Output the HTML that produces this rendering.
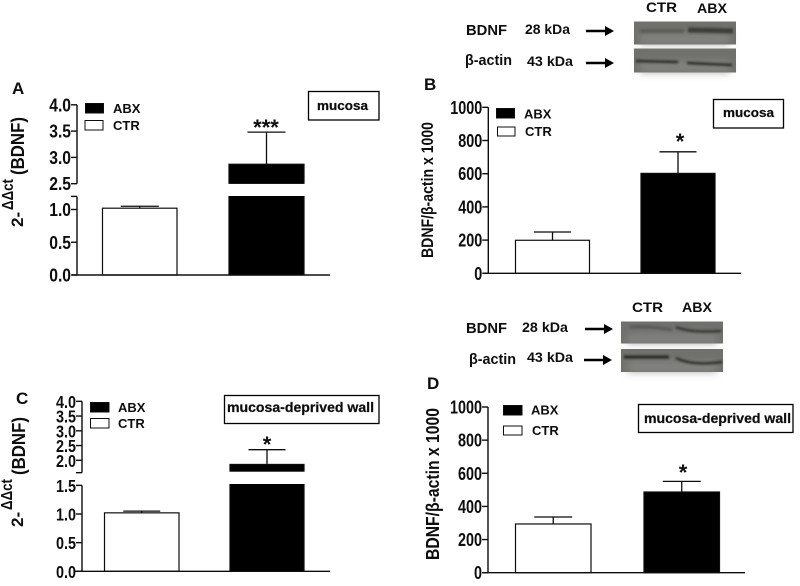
<!DOCTYPE html>
<html lang="en">
<head>
<meta charset="utf-8">
<title>BDNF expression in mucosa and mucosa-deprived wall</title>
<style>
html,body{margin:0;padding:0;background:#fff;}
#figure{display:block;width:800px;height:586px;font-family:"Liberation Sans",sans-serif;}
</style>
</head>
<body>
<svg id="figure" xmlns="http://www.w3.org/2000/svg" width="800" height="586" viewBox="0 0 800 586">
<defs>
<filter id="soft" filterUnits="userSpaceOnUse" x="0" y="0" width="800" height="586"><feGaussianBlur stdDeviation="0.3"/></filter>
<filter id="bandBlur" filterUnits="userSpaceOnUse" x="0" y="0" width="800" height="586"><feGaussianBlur stdDeviation="1"/></filter>
<filter id="mottle" filterUnits="userSpaceOnUse" x="0" y="0" width="800" height="586"><feGaussianBlur stdDeviation="4"/></filter>
</defs>
<g id="root" filter="url(#soft)"></g>
</svg>
<script>
const categories = ['CTR', 'ABX'];
const panelAMeans = [1.02, 2.87];
const panelAErrors = [0.03, 0.61];
const panelBMeans = [199, 602];
const panelBErrors = [50, 130];
const panelCMeans = [1.02, 1.86];
const panelCErrors = [0.03, 0.50];
const panelDMeans = [294, 487];
const panelDErrors = [42, 64];
const panelATicksLow = ['0.0', '0.5', '1.0'];
const panelATicksHigh = ['2.5', '3.0', '3.5', '4.0'];
const panelCTicksLow = ['0.0', '0.5', '1.0', '1.5'];
const panelCTicksHigh = ['2.0', '2.5', '3.0', '3.5', '4.0'];
const panelLinearTicks = ['0', '200', '400', '600', '800', '1000'];

const NS = 'http://www.w3.org/2000/svg';
const root = document.getElementById('root');

function make(tag, attrs, parent, text) {
  const el = document.createElementNS(NS, tag);
  for (const k in attrs) el.setAttribute(k, attrs[k]);
  if (text !== undefined) el.textContent = text;
  (parent || root).appendChild(el);
  return el;
}
function line(x1, y1, x2, y2, w, parent, name) {
  const el = make('line', {x1: x1, y1: y1, x2: x2, y2: y2, stroke: '#111', 'stroke-width': w}, parent);
  
  
  return el;
}
function label(str, x, y, size, parent, name, opts) {
  const o = opts || {};
  const attrs = {x: x, y: y, 'font-size': size, 'font-weight': o.weight || 'bold', fill: '#111', 'text-anchor': o.anchor || 'start'};
  if (o.len) { attrs.textLength = o.len; attrs.lengthAdjust = 'spacingAndGlyphs'; }
  if (o.rotate) { attrs.transform = 'rotate(-90 ' + x + ' ' + y + ')'; }
  if (o.heavy) { attrs.stroke = '#111'; attrs['stroke-width'] = o.heavy; }
  const el = make('text', attrs, parent, str);
  
  
  return el;
}

/* y scale built from one or two axis segments */
function makeScale(segments) {
  return function (v) {
    for (const s of segments) {
      if (v <= s.max) return s.y0 - (v - s.min) * s.k;
    }
    const s = segments[segments.length - 1];
    return s.y0 - (v - s.min) * s.k;
  };
}

function drawPanel(p) {
  const g = make('g', {});
  
  
  const y = makeScale(p.segments);
  const base = p.segments[0].y0;

  /* bars */
  p.means.forEach(function (m, i) {
    const x0 = p.barX[i][0], x1 = p.barX[i][1], cx = (x0 + x1) / 2;
    const top = y(m), errTop = y(m + p.errors[i]);
    line(cx, top, cx, errTop, 1.3, g, 'error-bar-' + categories[i].toLowerCase());
    line(cx - p.cap, errTop, cx + p.cap, errTop, 1.3, g, 'error-cap-' + categories[i].toLowerCase());
    const bar = make('rect', {x: x0, y: top, width: x1 - x0, height: base - top,
      fill: i === 1 ? '#000' : '#fff', stroke: '#111', 'stroke-width': 1.2}, g);
    
    
  });

  /* axis break: white gap across bars */
  if (p.gap) {
    const gap = make('rect', {x: p.axisX + 1, y: p.gap[0], width: p.baseEnd - p.axisX, height: p.gap[1] - p.gap[0], fill: '#fff'}, g);
    
    
  }

  /* axes */
  line(p.baseStart, base, p.baseEnd, base, 1.4, g, 'x-axis');
  p.axisSpans.forEach(function (s) {
    line(p.axisX, y(s[0]), p.axisX, y(s[1]), 1.4, g, 'y-axis');
  });
  p.ticks.forEach(function (t) {
    const py = y(parseFloat(t));
    line(p.axisX - 6, py, p.axisX, py, 1.4, g, 'y-tick');
    label(t, p.axisX - 6, py + p.tickDy, p.tickSize, g, 'y-tick-label',
      {anchor: 'end', len: p.tickStretch * t.length - (t.indexOf('.') > -1 ? p.tickStretch * 0.5 : 0)});
  });
  if (p.extraTick) {
    line(p.axisX - 6, y(p.extraTick), p.axisX, y(p.extraTick), 1.4, g, 'axis-break-tick');
  }

  /* legend */
  p.legend.forEach(function (e, i) {
    const s = make('rect', {x: e.x, y: e.y, width: e.w, height: e.h, fill: i === 0 ? '#000' : '#fff', stroke: '#111', 'stroke-width': 1}, g);
    
    
    label(e.t, e.tx, e.ty, 13, g, 'legend-label-' + e.t.toLowerCase());
  });

  /* tissue label */
  const b = make('rect', {x: p.box[0], y: p.box[1], width: p.box[2], height: p.box[3], fill: '#fff', stroke: '#000', 'stroke-width': 1.3}, g);
  
  
  label(p.boxText, p.boxTextX, p.boxTextY, p.boxSize, g, 'tissue-label', {len: p.boxLen, heavy: 0.25});

  /* significance + letter */
  label(p.star, p.starX, p.starY, p.starSize, g, 'significance-marker', {anchor: 'middle'});
  label(p.id, p.letter[0], p.letter[1], 17, g, 'panel-letter');
  return g;
}

drawPanel({
  id: 'A', means: panelAMeans, errors: panelAErrors,
  segments: [{min: 0, max: 1.2, y0: 275, k: 65.5}, {min: 2.5, max: 9, y0: 183.7, k: 52.6}],
  barX: [[102.5, 177], [229, 304]], cap: 19, gap: [183.9, 196], axisX: 77, baseStart: 72, baseEnd: 330,
  axisSpans: [[0, 1.2], [2.5, 4]], ticks: panelATicksLow.concat(panelATicksHigh), extraTick: 1.2,
  tickSize: 18, tickDy: 6.5, tickStretch: 8.7,
  legend: [{t: 'ABX', x: 85.5, y: 103.5, w: 18, h: 9.5, tx: 113, ty: 113}, {t: 'CTR', x: 85, y: 120.5, w: 18, h: 9.5, tx: 113, ty: 130}],
  box: [308.5, 91.5, 70.5, 28.5], boxText: 'mucosa', boxTextX: 317, boxTextY: 110, boxSize: 13, boxLen: 51,
  star: '***', starX: 266, starY: 135, starSize: 22, letter: [12, 94]
});
drawPanel({
  id: 'B', means: panelBMeans, errors: panelBErrors,
  segments: [{min: 0, max: 2000, y0: 273.3, k: 0.166}],
  barX: [[515.5, 589.5], [641, 715]], cap: 18.5, axisX: 488.3, baseStart: 483, baseEnd: 741,
  axisSpans: [[0, 1000]], ticks: panelLinearTicks,
  tickSize: 18, tickDy: 6.5, tickStretch: 8,
  legend: [{t: 'ABX', x: 496.5, y: 108.5, w: 18, h: 9.5, tx: 524, ty: 118.5}, {t: 'CTR', x: 497.5, y: 127, w: 17.5, h: 9, tx: 525, ty: 136}],
  box: [713.5, 99.5, 70, 28.5], boxText: 'mucosa', boxTextX: 723, boxTextY: 117, boxSize: 13, boxLen: 51,
  star: '*', starX: 680, starY: 149, starSize: 22, letter: [424, 90]
});
drawPanel({
  id: 'C', means: panelCMeans, errors: panelCErrors,
  segments: [{min: 0, max: 1.5, y0: 571.3, k: 57.3}, {min: 1.58, max: 9, y0: 472.7, k: 29.5}],
  barX: [[104.5, 179], [230, 304]], cap: 18.5, gap: [471.7, 484], axisX: 82, baseStart: 74, baseEnd: 330,
  axisSpans: [[0, 1.5], [1.58, 4]], ticks: panelCTicksLow.concat(panelCTicksHigh), extraTick: 1.58,
  tickSize: 17.5, tickDy: 6.5, tickStretch: 8,
  legend: [{t: 'ABX', x: 90.5, y: 402.5, w: 18.5, h: 9.5, tx: 118, ty: 412}, {t: 'CTR', x: 90.5, y: 418.5, w: 18.5, h: 9.5, tx: 118, ty: 428}],
  box: [224.5, 395.5, 154.5, 28], boxText: 'mucosa-deprived wall', boxTextX: 227, boxTextY: 412, boxSize: 14, boxLen: 147,
  star: '*', starX: 267, starY: 452, starSize: 22, letter: [16, 404]
});
drawPanel({
  id: 'D', means: panelDMeans, errors: panelDErrors,
  segments: [{min: 0, max: 2000, y0: 572.7, k: 0.1657}],
  barX: [[515.5, 591], [644, 719.5]], cap: 19, axisX: 488, baseStart: 483, baseEnd: 745,
  axisSpans: [[0, 1000]], ticks: panelLinearTicks,
  tickSize: 18, tickDy: 6.5, tickStretch: 8,
  legend: [{t: 'ABX', x: 503.5, y: 405.5, w: 18.5, h: 9.5, tx: 531, ty: 414.5}, {t: 'CTR', x: 503.5, y: 426, w: 18.5, h: 9, tx: 532, ty: 435}],
  box: [638.5, 404.5, 154.5, 28], boxText: 'mucosa-deprived wall', boxTextX: 644, boxTextY: 423, boxSize: 14, boxLen: 147,
  star: '*', starX: 683, starY: 480, starSize: 22, letter: [427, 389]
});

/* y-axis titles */
label('2-', 23, 227, 17, root, 'y-axis-title-a-base', {rotate: true});
label('ΔΔct', 13, 210, 16, root, 'y-axis-title-a-exponent', {rotate: true, len: 31});
label('(BDNF)', 24, 175, 18, root, 'y-axis-title-a-gene', {rotate: true, len: 58});
label('2-', 23, 527, 17, root, 'y-axis-title-c-base', {rotate: true});
label('ΔΔct', 12, 510, 16, root, 'y-axis-title-c-exponent', {rotate: true, len: 31});
label('(BDNF)', 25, 475, 18, root, 'y-axis-title-c-gene', {rotate: true, len: 58});
label('BDNF/β-actin x 1000', 433, 258, 17, root, 'y-axis-title-b', {rotate: true, len: 136});
label('BDNF/β-actin x 1000', 439, 560, 18, root, 'y-axis-title-d', {rotate: true, len: 152});

/* western blots */
function blot(x, y, w, h, bands, name) {
  const g = make('g', {});
  
  
  make('rect', {x: x, y: y, width: w, height: h, fill: '#6f6f6c'}, g);
  make('rect', {x: x + 6, y: y + 12, width: w - 12, height: h - 12, fill: '#8b8b88', opacity: 0.7, filter: 'url(#mottle)'}, g);
  bands.forEach(function (b) {
    make('path', {d: b.d, fill: 'none', stroke: '#262624', 'stroke-width': b.w, opacity: b.o, filter: 'url(#bandBlur)'}, g);
  });
}
blot(634, 21.5, 102, 23, [
  {d: 'M640 31 L684 31', w: 4, o: 0.3},
  {d: 'M688 30 L733 31', w: 5, o: 0.7}
], 'blot-mucosa-bdnf');
blot(634, 48.5, 102, 24, [
  {d: 'M636 61 L678 62', w: 2.5, o: 0.95},
  {d: 'M687 63 L732 65', w: 2.5, o: 0.95}
], 'blot-mucosa-actin');
blot(621, 321.5, 102, 22, [
  {d: 'M630 327 Q650 326 672 330', w: 2.5, o: 0.35},
  {d: 'M676 327 Q690 333 721 331', w: 2.5, o: 0.8}
], 'blot-wall-bdnf');
blot(621, 349, 102, 23, [
  {d: 'M624 357 L669 357', w: 3, o: 1},
  {d: 'M676 358 Q692 366 722 362', w: 2.5, o: 0.9}
], 'blot-wall-actin');

/* arrows */
function arrow(x1, x2, y, name) {
  const g = make('g', {});
  
  
  make('line', {x1: x1, y1: y, x2: x2 - 6, y2: y, stroke: '#000', 'stroke-width': 2.4}, g);
  make('polygon', {points: (x2 - 9) + ',' + (y - 5) + ' ' + x2 + ',' + y + ' ' + (x2 - 9) + ',' + (y + 5), fill: '#000'}, g);
}
arrow(586, 614, 31, 'arrow-mucosa-bdnf');
arrow(586, 614, 63, 'arrow-mucosa-actin');
arrow(585, 613, 329, 'arrow-wall-bdnf');
arrow(584, 612, 360, 'arrow-wall-actin');

/* blot labels */
label('CTR', 646, 12, 14, root, 'blot-lane-ctr', {len: 31});
label('ABX', 697, 13, 14, root, 'blot-lane-abx', {len: 30});
label('BDNF', 466, 35, 15, root, 'blot-target-bdnf', {len: 41});
label('28 kDa', 525, 34, 14, root, 'blot-weight-28', {len: 45});
label('β-actin', 465, 65, 15, root, 'blot-target-actin', {len: 47});
label('43 kDa', 527, 66, 14, root, 'blot-weight-43', {len: 46});
label('CTR', 632, 312, 14, root, 'blot-lane-ctr', {len: 31});
label('ABX', 682, 312, 14, root, 'blot-lane-abx', {len: 30});
label('BDNF', 466, 333, 15, root, 'blot-target-bdnf', {len: 41});
label('28 kDa', 522, 332, 14, root, 'blot-weight-28', {len: 46});
label('β-actin', 469, 364, 15, root, 'blot-target-actin', {len: 47});
label('43 kDa', 527, 362, 14, root, 'blot-weight-43', {len: 46});
</script>
</body>
</html>
